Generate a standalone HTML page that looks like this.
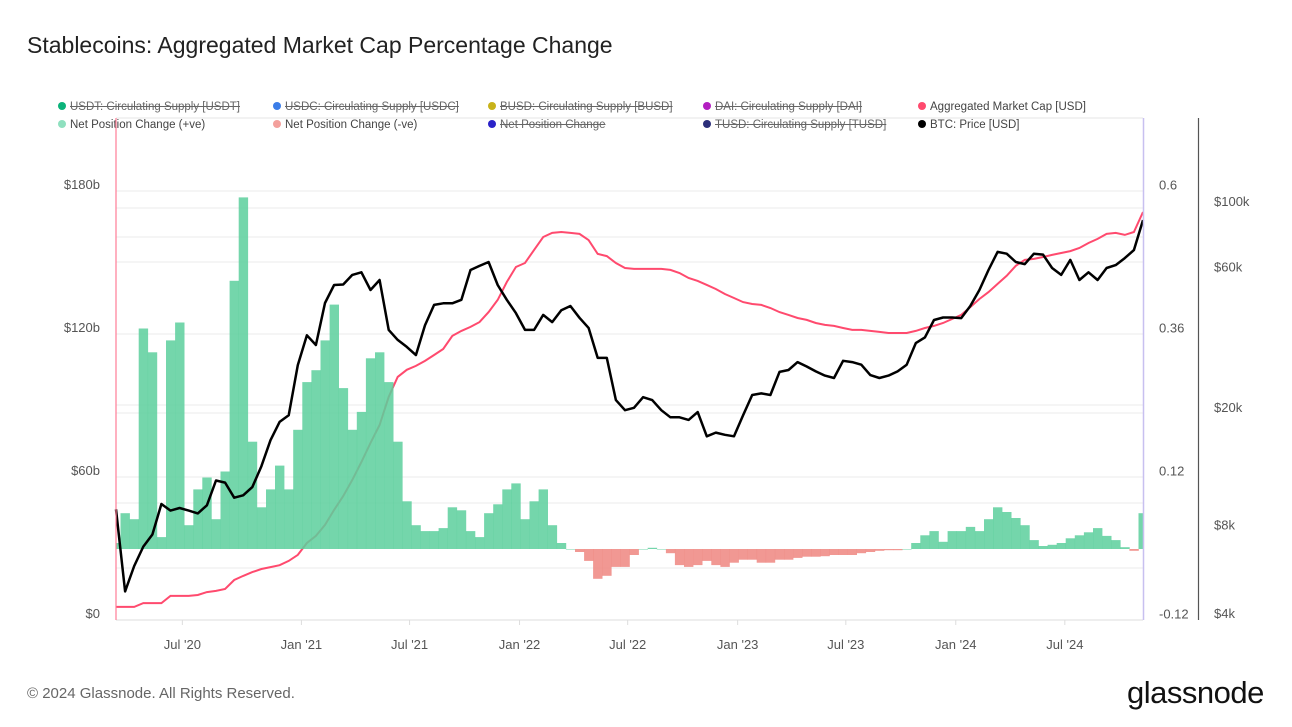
<!DOCTYPE html>
<html><head><meta charset="utf-8">
<style>
body{margin:0;background:#fff;font-family:"Liberation Sans",sans-serif;}
#wrap{position:relative;width:1292px;height:727px;overflow:hidden;}
.title{position:absolute;left:27px;top:32px;font-size:23px;color:#222;}
.leg{position:absolute;font-size:11.5px;color:#444;white-space:nowrap;}
.leg i{display:inline-block;width:8px;height:8px;border-radius:50%;margin-right:4px;vertical-align:-0px;}
.leg.off{text-decoration:line-through;color:#666;}
.foot{position:absolute;left:27px;top:685px;font-size:15px;color:#666;}
.logo{position:absolute;left:1127px;top:675px;font-size:31px;color:#111;letter-spacing:-0.5px;}
</style></head><body>
<div id="wrap">
<div class="title">Stablecoins: Aggregated Market Cap Percentage Change</div>
<div class="leg off" style="left:58px;top:101px"><i style="background:#0bb37a"></i>USDT: Circulating Supply [USDT]</div>
<div class="leg off" style="left:273px;top:101px"><i style="background:#3b7de8"></i>USDC: Circulating Supply [USDC]</div>
<div class="leg off" style="left:488px;top:101px"><i style="background:#c8b21a"></i>BUSD: Circulating Supply [BUSD]</div>
<div class="leg off" style="left:703px;top:101px"><i style="background:#b31fc1"></i>DAI: Circulating Supply [DAI]</div>
<div class="leg" style="left:918px;top:101px"><i style="background:#ff4a6e"></i>Aggregated Market Cap [USD]</div>
<div class="leg" style="left:58px;top:119px"><i style="background:#8fe0bf"></i>Net Position Change (+ve)</div>
<div class="leg" style="left:273px;top:119px"><i style="background:#f3a09c"></i>Net Position Change (-ve)</div>
<div class="leg off" style="left:488px;top:119px"><i style="background:#2a22c8"></i>Net Position Change</div>
<div class="leg off" style="left:703px;top:119px"><i style="background:#2c2f7a"></i>TUSD: Circulating Supply [TUSD]</div>
<div class="leg" style="left:918px;top:119px"><i style="background:#000"></i>BTC: Price [USD]</div>
<svg id="svg" width="1292" height="727" style="position:absolute;left:0;top:0"><defs><clipPath id="plotclip"><rect x="116" y="118" width="1027" height="502"/></clipPath></defs></svg>
<div class="foot">© 2024 Glassnode. All Rights Reserved.</div>
<div class="logo">glassnode</div>
</div>
<script>
const netChange=[0.01,0.06,0.05,0.37,0.33,0.02,0.35,0.38,0.04,0.10,0.12,0.05,0.13,0.45,0.59,0.18,0.07,0.10,0.14,0.10,0.20,0.28,0.30,0.35,0.41,0.27,0.20,0.23,0.32,0.33,0.28,0.18,0.08,0.04,0.03,0.03,0.035,0.07,0.065,0.03,0.02,0.06,0.075,0.10,0.11,0.05,0.08,0.10,0.04,0.01,0,-0.005,-0.02,-0.05,-0.045,-0.03,-0.03,-0.01,0,0.002,0,-0.007,-0.027,-0.03,-0.027,-0.02,-0.027,-0.03,-0.023,-0.018,-0.018,-0.023,-0.023,-0.018,-0.018,-0.015,-0.013,-0.013,-0.012,-0.01,-0.01,-0.01,-0.007,-0.005,-0.003,-0.002,-0.002,0,0.01,0.023,0.03,0.012,0.03,0.03,0.037,0.03,0.05,0.07,0.062,0.052,0.04,0.015,0.005,0.007,0.01,0.018,0.023,0.028,0.035,0.022,0.015,0.003,-0.003,0.06];
const marketCap=[5.5,5.5,5.5,7.1,7.1,7.1,10.1,10.1,10.1,10.5,11.7,12.2,13,16.8,18.5,20.1,21.4,22.2,23,24.8,27.3,32.3,35.3,39.9,46.2,52,58.8,66.3,74.3,81.8,93.6,102,105,106.6,108.7,111.2,113.7,119.2,121.3,123,125,129.2,134.3,141.8,148.1,149.8,155.3,160.7,162.4,162.8,162.4,162,159.4,153.6,152.7,149.8,147.7,147.3,147.3,147.3,147.3,146.9,145.6,143.5,142.3,140.6,138.9,136.8,135.1,133.4,132.6,132.2,130.9,129.2,128,126.7,125.9,124.6,123.8,123.4,122.5,121.7,121.7,121.3,120.9,120.4,120.4,120.4,121.3,122.5,123.4,124.6,126.3,128,131.3,134.7,137.6,141,144.4,148.6,151.1,151.5,152.3,153.2,154,154.8,156.1,158.2,159.9,162,162.4,161.6,162.8,171.2];
const btcPrice=[9.5,5.0,6.1,7.1,7.8,9.9,9.4,9.6,9.4,9.2,9.8,11.9,11.7,10.4,10.6,11.3,13.3,16.3,18.8,19.8,29.3,37,34.3,47.6,54.8,55,59.3,60.5,52.7,57,38.6,35.7,33.8,31.7,40,46.9,47.5,47.5,48.8,61.6,63.6,65.6,54.8,48.8,44,38.6,38.6,43.4,41,45,46.5,42.4,39.2,31,31,22.3,20.6,21,22.8,22.3,20.6,19.5,19.5,19.1,20.3,16.8,17.3,17,16.8,19.8,23.2,23.5,23.2,27.8,28.2,30,29,27.9,27,26.5,30.3,30,29.4,27.1,26.5,27,27.9,29.4,34.8,36.4,41.7,42.5,42.5,42.3,46.5,52.7,61.6,71,70,65.6,64.5,70,69.5,62.6,59.3,66.7,57,60.5,57,62.6,64,67.6,72,91];
const xTickLabels=["Jul '20","Jan '21","Jul '21","Jan '22","Jul '22","Jan '23","Jul '23","Jan '24","Jul '24"];
const xTickIdx=[7.3,20.4,32.3,44.4,56.3,68.4,80.3,92.4,104.4];
const capTicks=[0,60,120,180];
const capTickLabels=["$0","$60b","$120b","$180b"];
const pctTicks=[-0.12,0.12,0.36,0.6];
const pctTickLabels=["-0.12","0.12","0.36","0.6"];
const btcTicks=[4,8,20,60,100];
const btcTickLabels=["$4k","$8k","$20k","$60k","$100k"];

const L=116,R=1143,T=118,B=620,N=netChange.length;
const step=(R-L)/(N-1);
const xS=i=>L+i*step;
const yCap=v=>620-v*(429/180);
const yPct=v=>549-v*596;
const yBtc=v=>620-Math.log10(v/4)*294.7;
const svg=document.getElementById('svg');
const NS='http://www.w3.org/2000/svg';
function mk(tag,attrs){const e=document.createElementNS(NS,tag);for(const k in attrs)e.setAttribute(k,attrs[k]);svg.appendChild(e);return e;}
[191,208,237,262,334,405,413,477,503,568].forEach(y=>{
 const g=mk('line',{x1:L,x2:R,y1:y,y2:y,stroke:'#efefef','stroke-width':1.2});
 
 
});
const topBorder=mk('line',{x1:L,x2:R,y1:T,y2:T,stroke:'#e6e6e6'});


const bot=mk('line',{x1:L,x2:R,y1:B,y2:B,stroke:'#ddd'});


xTickIdx.forEach((t,k)=>{
 const x=xS(t);
 const tk=mk('line',{x1:x,x2:x,y1:B,y2:B+5,stroke:'#ddd'});
 
 
 const tx=mk('text',{x:x,y:649,'text-anchor':'middle','font-size':13,fill:'#555','font-family':'Liberation Sans, sans-serif'});
 tx.textContent=xTickLabels[k];
 
 
});
capTicks.forEach((v,k)=>{
 const tx=mk('text',{x:100,y:yCap(v)-2,'text-anchor':'end','font-size':13,fill:'#555','font-family':'Liberation Sans, sans-serif'});
 tx.textContent=capTickLabels[k];
 
 
});
pctTicks.forEach((v,k)=>{
 const tx=mk('text',{x:1159,y:yPct(v)-2,'font-size':13,fill:'#555','font-family':'Liberation Sans, sans-serif'});
 tx.textContent=pctTickLabels[k];
 
 
});
btcTicks.forEach((v,k)=>{
 const tx=mk('text',{x:1214,y:yBtc(v)-2,'font-size':13,fill:'#555','font-family':'Liberation Sans, sans-serif'});
 tx.textContent=btcTickLabels[k];
 
 
});
let d='';marketCap.forEach((v,i)=>{d+=(i?'L':'M')+xS(i).toFixed(1)+','+yCap(v).toFixed(1);});
const cap=mk('path',{d:d,fill:'none',stroke:'#ff4a6e','stroke-width':2});


const barGroup=mk('g',{'clip-path':'url(#plotclip)'});


netChange.forEach((v,i)=>{
 const y0=yPct(0),y1=yPct(v);
 const b=document.createElementNS(NS,'rect');
 b.setAttribute('x',(xS(i)-step/2).toFixed(1));
 b.setAttribute('y',Math.min(y0,y1).toFixed(1));
 b.setAttribute('width',(step+0.3).toFixed(1));
 b.setAttribute('height',Math.max(Math.abs(y1-y0),0.5).toFixed(1));
 b.setAttribute('fill',v>=0?'#5ccf9c':'#ee8680');
 b.setAttribute('fill-opacity','0.85');
 
 
 barGroup.appendChild(b);
});
d='';btcPrice.forEach((v,i)=>{d+=(i?'L':'M')+xS(i).toFixed(1)+','+yBtc(v).toFixed(1);});
const btc=mk('path',{d:d,fill:'none',stroke:'#000','stroke-width':2.5,'stroke-linejoin':'round'});


const la=mk('line',{x1:L,x2:L,y1:T,y2:B,stroke:'#ff7d96','stroke-width':1.2});


const ra=mk('line',{x1:R+0.5,x2:R+0.5,y1:T,y2:B,stroke:'#c8c0f0','stroke-width':1.5});


const ba=mk('line',{x1:1198.5,x2:1198.5,y1:T,y2:B,stroke:'#555','stroke-width':1.2});


</script>
</body></html>
